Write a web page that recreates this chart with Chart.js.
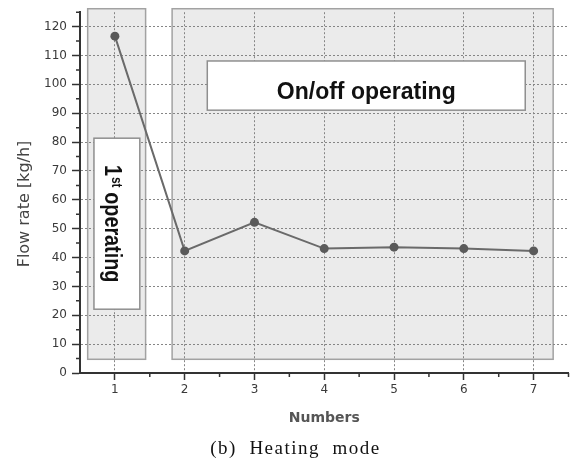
<!DOCTYPE html>
<html>
<head>
<meta charset="utf-8">
<script src="https://cdn.jsdelivr.net/npm/chart.js@4.4.1/dist/chart.umd.min.js"></script>
<style>
  html, body { margin: 0; padding: 0; background: #fff; }
  #wrap { position: relative; width: 573px; height: 463px; }
  #caption {
    position: absolute; left: 18px; top: 438px; width: 555px;
    text-align: center; white-space: pre; color: #111;
    font-family: "Liberation Serif", serif; font-size: 19px; line-height: 20px;
    letter-spacing: 1.5px;
  }
</style>
</head>
<body>
<div id="wrap">
  <canvas id="chart" width="573" height="463"></canvas>
  <div id="caption">(b)  Heating  mode</div>
</div>
<script>
// values
const numbers = [1, 2, 3, 4, 5, 6, 7];
const flowRate = [116.7, 42.3, 52.2, 43.1, 43.6, 43.1, 42.3];

const xTicks = [1, 2, 3, 4, 5, 6, 7];
const xMinorTicks = [1.5, 2.5, 3.5, 4.5, 5.5, 6.5, 7.5];
const yTicks = [0, 10, 20, 30, 40, 50, 60, 70, 80, 90, 100, 110, 120];
const yMinorTicks = [5, 15, 25, 35, 45, 55, 65, 75, 85, 95, 105, 115, 125];

const yTitle = 'Flow rate [kg/h]';
const xTitle = 'Numbers';

// shaded regions and their text boxes, in data units
const regions = [
    { x0: 0.61, x1: 1.44, y0: 4.75, y1: 126.2 },
    { x0: 1.82, x1: 7.28, y0: 4.75, y1: 126.2 }
];
const firstBox = { x0: 0.70, x1: 1.357, y0: 22.1, y1: 81.35 };
const onOffBox = { x0: 2.324, x1: 6.88, y0: 91.05, y1: 108.1 };

function boxPixels(chart, b) {
    const xs = chart.scales.x, ys = chart.scales.y;
    const left = xs.getPixelForValue(b.x0), right = xs.getPixelForValue(b.x1);
    const top = ys.getPixelForValue(b.y1), bottom = ys.getPixelForValue(b.y0);
    return { left, top, w: right - left, h: bottom - top, cx: (left + right) / 2, cy: (top + bottom) / 2 };
}

const regionsPlugin = {
    id: 'regions',
    beforeDraw(chart) {
        const ctx = chart.ctx;
        ctx.save();
        regions.forEach(r => {
            const p = boxPixels(chart, r);
            ctx.fillStyle = '#ebebeb';
            ctx.fillRect(p.left, p.top, p.w, p.h);
            ctx.strokeStyle = '#a2a2a2';
            ctx.lineWidth = 1.5;
            ctx.strokeRect(p.left, p.top, p.w, p.h);
        });
        ctx.restore();
    },
    beforeDatasetsDraw(chart) {
        const ctx = chart.ctx;
        ctx.save();
        [firstBox, onOffBox].forEach(b => {
            const p = boxPixels(chart, b);
            ctx.fillStyle = '#fff';
            ctx.fillRect(p.left, p.top, p.w, p.h);
            ctx.strokeStyle = '#8f8f8f';
            ctx.lineWidth = 1.5;
            ctx.strokeRect(p.left, p.top, p.w, p.h);
        });

        // "On/off operating"
        let p = boxPixels(chart, onOffBox);
        ctx.fillStyle = '#111';
        ctx.font = 'bold 23px "Liberation Sans", Arial, sans-serif';
        ctx.textAlign = 'center';
        ctx.textBaseline = 'alphabetic';
        ctx.fillText('On/off operating', p.cx, p.cy + 13);

        // "1st operating", rotated clockwise and a bit condensed
        p = boxPixels(chart, firstBox);
        const big = 'bold 23px "Liberation Sans", Arial, sans-serif';
        const small = 'bold 14px "Liberation Sans", Arial, sans-serif';
        ctx.font = big;
        const w1 = ctx.measureText('1').width;
        const w3 = ctx.measureText(' operating').width;
        ctx.font = small;
        const w2 = ctx.measureText('st').width;
        const total = w1 + w2 + w3;
        ctx.translate(p.cx, p.cy);
        ctx.rotate(Math.PI / 2);
        ctx.scale(0.86, 1);
        ctx.textAlign = 'left';
        let x = -total / 2;
        ctx.font = big;
        ctx.fillText('1', x, 12);
        x += w1;
        ctx.font = small;
        ctx.fillText('st', x + 1, 5);
        x += w2;
        ctx.font = big;
        ctx.fillText(' operating', x, 12);
        ctx.restore();
    },
    afterDraw(chart) {
        const ctx = chart.ctx;
        const xs = chart.scales.x, ys = chart.scales.y;
        const area = chart.chartArea;
        ctx.save();
        ctx.strokeStyle = '#333';
        ctx.lineWidth = 1.5;
        ctx.beginPath();
        xMinorTicks.forEach(v => {
            const px = xs.getPixelForValue(v);
            ctx.moveTo(px, area.bottom);
            ctx.lineTo(px, area.bottom + 4);
        });
        yMinorTicks.forEach(v => {
            const py = ys.getPixelForValue(v);
            ctx.moveTo(area.left, py);
            ctx.lineTo(area.left - 4, py);
        });
        ctx.stroke();

        ctx.translate(25, 204);
        ctx.rotate(-Math.PI / 2);
        ctx.fillStyle = '#444';
        ctx.font = '16px "DejaVu Sans", sans-serif';
        ctx.textAlign = 'center';
        ctx.textBaseline = 'middle';
        ctx.fillText(yTitle, 0, 0);
        ctx.restore();
    }
};

const gridOpts = {
    color: '#858585',
    lineWidth: 1,
    tickColor: '#333',
    tickWidth: 1.5
};

new Chart(document.getElementById('chart'), {
    type: 'line',
    data: {
        datasets: [{
            data: numbers.map((n, i) => ({ x: n, y: flowRate[i] })),
            borderColor: '#6a6a6a',
            borderWidth: 2,
            pointRadius: 4.5,
            pointBackgroundColor: '#5a5a5a',
            pointBorderWidth: 0,
            tension: 0
        }]
    },
    options: {
        responsive: false,
        animation: false,
        layout: { padding: { top: 11.5, right: 1, left: 0, bottom: 32 } },
        plugins: {
            legend: { display: false },
            tooltip: { enabled: false }
        },
        scales: {
            x: {
                type: 'linear',
                min: 0.5,
                max: 7.5,
                afterBuildTicks: s => { s.ticks = xTicks.map(v => ({ value: v })); },
                afterFit: s => { s.height = 58; },
                grid: Object.assign({ tickLength: 7 }, gridOpts),
                border: { color: '#333', width: 2, dash: [2, 2] },
                ticks: { color: '#3a3a3a', font: { family: 'DejaVu Sans', size: 12 }, padding: 3 },
                title: {
                    display: true,
                    text: xTitle,
                    color: '#555',
                    font: { family: 'DejaVu Sans', size: 14, weight: 'bold' },
                    padding: { top: 0, bottom: 4 }
                }
            },
            y: {
                min: 0,
                max: 125,
                afterBuildTicks: s => { s.ticks = yTicks.map(v => ({ value: v })); },
                afterFit: s => { s.width = 80; },
                grid: Object.assign({ tickLength: 8 }, gridOpts),
                border: { color: '#333', width: 2, dash: [2, 2] },
                ticks: { color: '#3a3a3a', font: { family: 'DejaVu Sans', size: 12 }, padding: 5 }
            }
        }
    },
    plugins: [regionsPlugin]
});
</script>
</body>
</html>
